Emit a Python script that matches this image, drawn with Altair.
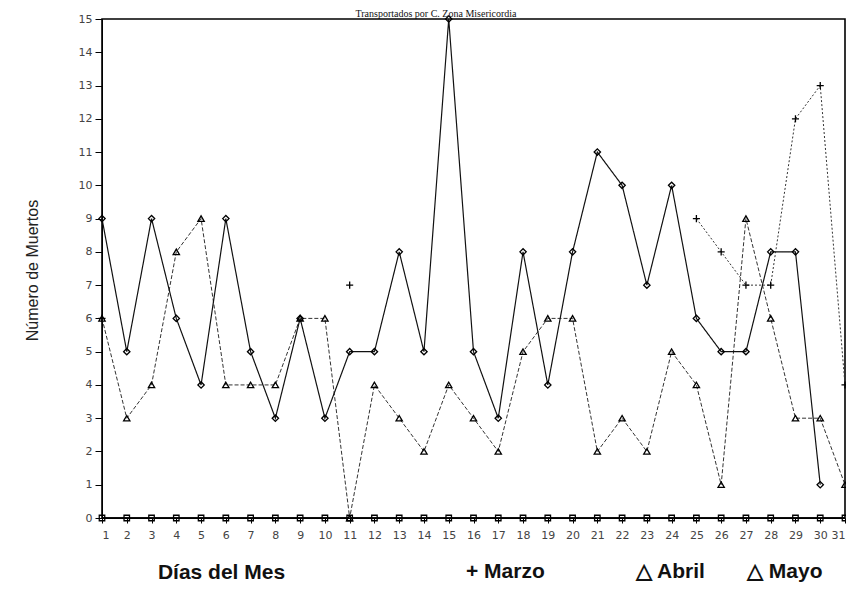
import altair as alt
import pandas as pd

dias = list(range(1, 32))
marzo = [6, None, None, None, None, None, None, None, None, None,
         7, None, None, None, None, None, None, None, None, None,
         None, None, None, None, 9, 8, 7, 7, 12, 13, 4]
abril = [9, 5, 9, 6, 4, 9, 5, 3, 6, 3, 5, 5, 8, 5, 15, 5, 3, 8, 4, 8,
         11, 10, 7, 10, 6, 5, 5, 8, 8, 1, None]
mayo = [6, 3, 4, 8, 9, 4, 4, 4, 6, 6, 0, 4, 3, 2, 4, 3, 2, 5, 6, 6,
        2, 3, 2, 5, 4, 1, 9, 6, 3, 3, 1]
ceros = [0] * 31

titulo = "Transportados por C. Zona Misericordia"
leyenda = ["+ Marzo", "△ Abril", "△ Mayo"]

rows = []
for nombre, vals in [("Marzo", marzo), ("Abril", abril), ("Mayo", mayo), ("Cero", ceros)]:
    for d, v in zip(dias, vals):
        rows.append({"dia": d, "valor": v, "serie": nombre})
df = pd.DataFrame(rows)

X = alt.X("dia:Q",
          scale=alt.Scale(domain=[1, 31], nice=False, zero=False),
          axis=alt.Axis(values=dias, format="d", labelOverlap=False, grid=False,
                        title="Días del Mes", titleFont="Liberation Sans",
                        titleFontSize=21, titleFontWeight="bold", titleColor="#111",
                        titleX=119, titleY=60, titleAnchor="middle", titleBaseline="alphabetic",
                        labelFont="DejaVu Sans", labelFontSize=11, labelColor="#444",
                        tickSize=5, labelPadding=6, domainColor="black", tickColor="black"))
Y = alt.Y("valor:Q",
          scale=alt.Scale(domain=[0, 15], nice=False),
          axis=alt.Axis(values=list(range(16)), grid=False,
                        title="Número de Muertos", titleFont="Liberation Sans",
                        titleFontSize=16, titleFontWeight="normal", titleColor="#222",
                        titleX=-62, titleY=251, titleAnchor="middle",
                        labelFont="DejaVu Sans", labelFontSize=11, labelColor="#444",
                        tickSize=7, labelPadding=3, domainColor="black", tickColor="black"))

base = alt.Chart(df)

def serie(nombre, dash, width, shape, filled, size, color):
    sub = base.transform_filter(alt.datum.serie == nombre)
    line = sub.mark_line(color=color, strokeWidth=width, strokeDash=dash,
                         invalid="break-paths-show-domains").encode(x=X, y=Y)
    pts = sub.transform_filter("isValid(datum.valor)").mark_point(
        shape=shape, filled=filled, size=size, color="black", strokeWidth=1.3, opacity=1
    ).encode(x=X, y=Y)
    return [line, pts]

plus = "M-1,0H1M0,-1V1"
layers = []
layers += serie("Cero", [1, 0], 1.6, "square", False, 30, "black")
layers += serie("Mayo", [4, 2], 1.0, "triangle-up", False, 40, "#333")
layers += serie("Abril", [1, 0], 1.2, "diamond", False, 40, "#111")
layers += serie("Marzo", [2, 2], 1.0, plus, False, 50, "#333")

def texto(t, px, py, font, size, weight, align="left", baseline="alphabetic"):
    return alt.Chart(pd.DataFrame({"t": [t]})).mark_text(
        font=font, fontSize=size, fontWeight=weight, align=align,
        baseline=baseline, color="#111"
    ).encode(x=alt.value(px), y=alt.value(py), text="t:N")

layers.append(texto(titulo, 334, -10, "Liberation Serif", 10, "normal", "center", "top"))
layers.append(texto(leyenda[0], 364, 559, "Liberation Sans", 21, "bold"))
layers.append(texto(leyenda[1], 534, 559, "Liberation Sans", 21, "bold"))
layers.append(texto(leyenda[2], 645, 559, "Liberation Sans", 21, "bold"))

chart = alt.layer(*layers).properties(
    width=743, height=499,
    autosize=alt.AutoSizeParams(type="none"),
    padding={"left": 94, "top": 11, "right": 1, "bottom": 65},
    background="white",
).configure_view(stroke="black", strokeWidth=1.6)

chart.save("out.html", embed_options={"renderer": "svg", "actions": False})
